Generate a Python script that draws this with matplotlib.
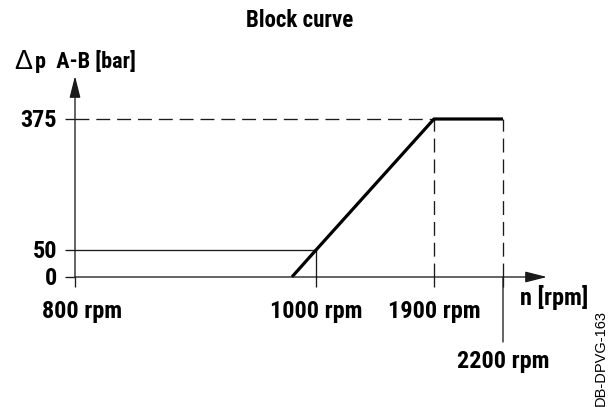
import numpy as np
import matplotlib
matplotlib.use("Agg")
import matplotlib.pyplot as plt
from matplotlib import font_manager

# ---------------- data ----------------
title = "Block curve"
y_name = "p  A-B [bar]"
x_name = "n [rpm]"
doc_id = "DB-DPVG-163"

speed_rpm = [980, 1000, 1900, 2200]
pressure_bar = [0, 50, 375, 375]

x_ticks = [800, 1000, 1900, 2200]
x_tick_labels = ["800 rpm", "1000 rpm", "1900 rpm", "2200 rpm"]
y_ticks = [0, 50, 375]
y_tick_labels = ["0", "50", "375"]

# ---------------- schematic (non-linear) axis scales ----------------
W, H = 616, 407
x_break_px = [75, 316, 434, 503]                  # pixel position of each x tick
y_break_px = [407 - 277, 407 - 250, 407 - 119]    # pixel height of each y tick


def piecewise(xs, ys):
    xs = np.asarray(xs, float)
    ys = np.asarray(ys, float)

    def f(v):
        v = np.asarray(v, float)
        out = np.interp(v, xs, ys)
        lo = ys[0] + (v - xs[0]) * (ys[1] - ys[0]) / (xs[1] - xs[0])
        hi = ys[-1] + (v - xs[-1]) * (ys[-1] - ys[-2]) / (xs[-1] - xs[-2])
        out = np.where(v < xs[0], lo, out)
        out = np.where(v > xs[-1], hi, out)
        return out
    return f


fx, fx_inv = piecewise(x_ticks, x_break_px), piecewise(x_break_px, x_ticks)
fy, fy_inv = piecewise(y_ticks, y_break_px), piecewise(y_break_px, y_ticks)

# ---------------- fonts ----------------
names = {f.name for f in font_manager.fontManager.ttflist}
if "Roboto Condensed" in names:
    BOLD = ["Roboto Condensed", "DejaVu Sans"]
    k = 1.0
else:
    BOLD = ["Liberation Sans", "DejaVu Sans"]
    k = 0.82
REG = ["Liberation Sans", "DejaVu Sans"]

plt.rcParams["lines.scale_dashes"] = False
INK = "#1a1a1a"
THIN = 0.95
BOLDW = 2.3
DASH = (0, (10, 5))

fig = plt.figure(figsize=(W / 100, H / 100), dpi=100)
ax = fig.add_axes([0, 0, 1, 1])
ax.set_xscale("function", functions=(fx, fx_inv))
ax.set_yscale("function", functions=(fy, fy_inv))
ax.set_xlim(float(fx_inv(0)), float(fx_inv(W)))
ax.set_ylim(float(fy_inv(0)), float(fy_inv(H)))
ax.patch.set_visible(False)

x0, y0 = x_ticks[0], y_ticks[0]

# spines positioned at the origin (hidden; axis lines drawn as arrows)
ax.spines["left"].set_position(("data", x0))
ax.spines["bottom"].set_position(("data", y0))
for s in ax.spines.values():
    s.set_visible(False)

ax.set_xticks(x_ticks, labels=[""] * len(x_ticks))
ax.set_yticks(y_ticks, labels=[""] * len(y_ticks))
ax.xaxis.set_minor_locator(matplotlib.ticker.NullLocator())
ax.yaxis.set_minor_locator(matplotlib.ticker.NullLocator())
ax.tick_params(axis="both", direction="out", length=7.2, width=THIN, color=INK,
               top=False, right=False)

arrow = dict(arrowstyle="-|>,head_length=0.95,head_width=0.24", mutation_scale=14,
             lw=THIN, color=INK, shrinkA=0, shrinkB=0)
# x axis
ax.annotate("", xy=(547 / W, y0), xycoords=("axes fraction", "data"),
            xytext=(x0, y0), textcoords="data", arrowprops=arrow)
# y axis
ax.annotate("", xy=(x0, (H - 76) / H), xycoords=("data", "axes fraction"),
            xytext=(x0, y0), textcoords="data", arrowprops=arrow)

# reference lines
ax.plot([x0, speed_rpm[1]], [pressure_bar[1]] * 2, color=INK, lw=THIN)
ax.plot([speed_rpm[1]] * 2, [y0, pressure_bar[1]], color=INK, lw=THIN)
ax.plot([x0, speed_rpm[2]], [pressure_bar[2]] * 2, color=INK, lw=THIN, ls=DASH)
ax.plot([speed_rpm[2]] * 2, [y0, pressure_bar[2]], color=INK, lw=THIN, ls=DASH)
ax.plot([speed_rpm[3]] * 2, [y0, pressure_bar[3]], color=INK, lw=THIN, ls=DASH)
# long leader below the 2200 rpm mark
ax.annotate("", xy=(x_ticks[3], y0), xytext=(0, -65 * 0.72), textcoords="offset points",
            arrowprops=dict(arrowstyle="-", lw=THIN, color=INK, shrinkA=0, shrinkB=0))

# block curve
ax.plot(speed_rpm, pressure_bar, color="black", lw=BOLDW, solid_capstyle="butt",
        solid_joinstyle="miter")

# tick labels
TICK_FS = 17.5 * k
label_dx = [7, 0, 0, 0]
label_dy = [-41, -41, -41, -91]
for v, lbl, dx, dy in zip(x_ticks, x_tick_labels, label_dx, label_dy):
    ax.annotate(lbl, xy=(v, y0), xytext=(dx * 0.72, dy * 0.72), textcoords="offset points",
                ha="center", va="baseline", fontsize=TICK_FS, fontweight="bold",
                family=BOLD, color="black")
for v, lbl in zip(y_ticks, y_tick_labels):
    ax.annotate(lbl, xy=(x0, v), xytext=(-18 * 0.72, -8 * 0.72), textcoords="offset points",
                ha="right", va="baseline", fontsize=TICK_FS, fontweight="bold",
                family=BOLD, color="black")

# titles and axis names
fig.text(300 / W, (H - 27) / H, title, ha="center", va="baseline",
         fontsize=16.5 * k, fontweight="bold", family=BOLD)
fig.text(14 / W, (H - 69) / H, "\u0394", ha="left", va="baseline",
         fontsize=19.5, family=REG)
fig.text(35 / W, (H - 68) / H, y_name, ha="left", va="baseline",
         fontsize=16 * k, fontweight="bold", family=BOLD)
fig.text(520 / W, (H - 305) / H, x_name, ha="left", va="baseline",
         fontsize=TICK_FS, fontweight="bold", family=BOLD)
fig.text(601 / W, 0.5 / H, doc_id, ha="center", va="bottom", rotation=90,
         fontsize=10.5, family=REG)

fig.savefig("out.png", dpi=100, facecolor="white")
